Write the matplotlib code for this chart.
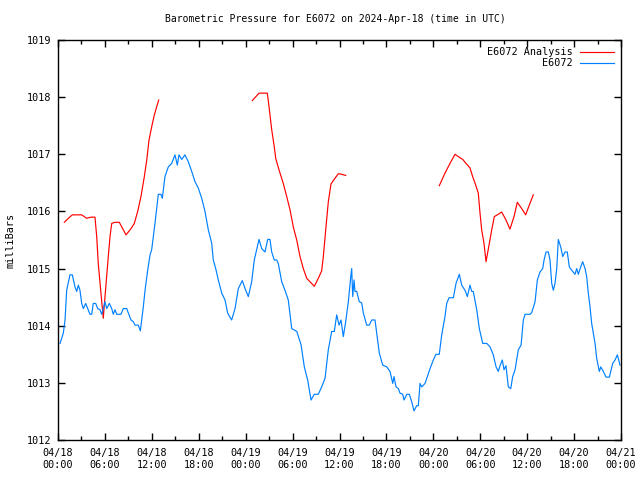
import numpy as np
import matplotlib
matplotlib.use("Agg")
import matplotlib.pyplot as plt

# hours since 2024-04-18 00:00 UTC and pressure (mb)
obs_hours = [0.26, 0.68, 0.90, 1.11, 1.53, 1.83, 2.17, 2.39, 2.60, 2.81, 3.03, 3.24, 3.54, 3.88, 4.09,
             4.31, 4.51, 4.82, 5.08, 5.37, 5.59, 5.79, 6.01, 6.23, 6.56, 6.87, 7.07, 7.29, 7.51, 8.06,
             8.35, 8.79, 9.08, 9.34, 9.63, 9.85, 10.27, 10.53, 10.70, 10.91, 11.13, 11.47, 11.77, 11.98,
             12.41, 12.83, 13.17, 13.34, 13.68, 14.11, 14.54, 14.96, 15.26, 15.47, 15.82, 16.24, 16.66,
             17.10, 17.52, 17.94, 18.38, 18.80, 19.22, 19.66, 19.86, 20.17, 20.50, 20.94, 21.36, 21.70,
             22.21, 22.64, 23.06, 23.57, 23.92, 24.34, 24.77, 25.10, 25.41, 25.71, 26.05, 26.47, 26.82,
             27.11, 27.33, 27.66, 27.97, 28.17, 28.61, 29.03, 29.45, 29.89, 30.53, 31.08, 31.50, 31.93,
             32.36, 32.78, 33.29, 33.72, 34.15, 34.57, 35.00, 35.34, 35.64, 35.94, 36.19, 36.49, 36.79,
             37.13, 37.44, 37.56, 37.69, 37.86, 37.98, 38.20, 38.53, 38.84, 39.05, 39.48, 39.81, 40.12,
             40.54, 40.76, 41.09, 41.53, 42.04, 42.46, 42.81, 42.97, 43.23, 43.52, 43.74, 44.08, 44.25,
             44.60, 44.93, 45.23, 45.53, 45.87, 46.08, 46.30, 46.51, 46.94, 47.23, 47.58, 48.00, 48.34,
             48.76, 49.07, 49.49, 49.71, 50.01, 50.56, 50.90, 51.32, 51.63, 52.05, 52.35, 52.69, 52.91,
             53.11, 53.55, 53.88, 54.32, 54.83, 55.25, 55.67, 56.02, 56.31, 56.53, 56.82, 57.04, 57.29,
             57.59, 57.90, 58.15, 58.45, 58.87, 59.22, 59.51, 59.73, 60.37, 60.58, 61.01, 61.30, 61.64,
             61.99, 62.16, 62.41, 62.71, 62.92, 63.14, 63.35, 63.56, 63.78, 63.98, 64.29, 64.55, 64.84,
             65.13, 65.39, 65.70, 66.12, 66.34, 66.54, 66.85, 67.10, 67.40, 67.61, 67.82, 68.04, 68.25,
             68.46, 68.68, 68.89, 69.23, 69.41, 69.74, 70.09, 70.51, 70.94, 71.24, 71.53, 71.71, 71.87]
obs_mb = [1013.69, 1013.87, 1014.10, 1014.62, 1014.89, 1014.89, 1014.68, 1014.60, 1014.71, 1014.62, 1014.39,
          1014.30, 1014.39, 1014.27, 1014.20, 1014.20, 1014.39, 1014.39, 1014.30, 1014.28, 1014.20, 1014.30,
          1014.42, 1014.30, 1014.39, 1014.30, 1014.20, 1014.28, 1014.20, 1014.20, 1014.30, 1014.30, 1014.19,
          1014.10, 1014.07, 1014.01, 1014.01, 1013.91, 1014.10, 1014.33, 1014.62, 1014.97, 1015.24, 1015.33,
          1015.80, 1016.30, 1016.30, 1016.23, 1016.61, 1016.78, 1016.84, 1016.99, 1016.81, 1016.99, 1016.91,
          1016.99, 1016.87, 1016.70, 1016.52, 1016.41, 1016.23, 1016.00, 1015.68, 1015.44, 1015.15, 1015.00,
          1014.80, 1014.57, 1014.45, 1014.22, 1014.10, 1014.30, 1014.65, 1014.79, 1014.65, 1014.51, 1014.77,
          1015.15, 1015.33, 1015.51, 1015.35, 1015.29, 1015.51, 1015.51, 1015.29, 1015.15, 1015.15, 1015.09,
          1014.77, 1014.62, 1014.45, 1013.95, 1013.90, 1013.67, 1013.28, 1013.05, 1012.70, 1012.80, 1012.80,
          1012.93, 1013.08, 1013.58, 1013.90, 1013.90, 1014.19, 1014.01, 1014.10, 1013.81, 1014.07, 1014.42,
          1014.86, 1015.00, 1014.51, 1014.80, 1014.60, 1014.60, 1014.42, 1014.40, 1014.22, 1014.01, 1014.01,
          1014.10, 1014.10, 1013.87, 1013.52, 1013.31, 1013.28, 1013.20, 1012.99, 1013.11, 1012.93, 1012.90,
          1012.82, 1012.80, 1012.70, 1012.80, 1012.80, 1012.67, 1012.51, 1012.60, 1012.60, 1012.99, 1012.93,
          1012.99, 1013.11, 1013.25, 1013.40, 1013.50, 1013.50, 1013.84, 1014.16, 1014.39, 1014.49, 1014.49,
          1014.74, 1014.90, 1014.71, 1014.62, 1014.51, 1014.71, 1014.60, 1014.60, 1014.28, 1013.95, 1013.69,
          1013.69, 1013.63, 1013.49, 1013.28, 1013.20, 1013.30, 1013.40, 1013.23, 1013.30, 1012.93, 1012.90,
          1013.11, 1013.23, 1013.58, 1013.66, 1014.10, 1014.20, 1014.20, 1014.23, 1014.42, 1014.80, 1014.94,
          1015.00, 1015.15, 1015.29, 1015.29, 1015.15, 1014.74, 1014.62, 1014.74, 1015.00, 1015.51, 1015.38,
          1015.21, 1015.29, 1015.29, 1015.03, 1014.97, 1014.90, 1015.00, 1014.90, 1015.03, 1015.12, 1015.00,
          1014.86, 1014.57, 1014.33, 1014.04, 1013.87, 1013.69, 1013.43, 1013.20, 1013.28, 1013.20, 1013.10,
          1013.10, 1013.34, 1013.40, 1013.49, 1013.40, 1013.31]

# analysis series; NaN marks gaps in the record
ana_hours = [0.81, 1.32, 1.83, 3.03, 3.67, 4.22, 4.73, 4.95, 5.15, 5.46, 5.79, 6.01, 6.36, 6.65, 6.87,
             7.29, 7.84, 8.70, 9.34, 9.76, 10.19, 10.61, 11.04, 11.35, 11.64, 11.98, 12.32, 12.62, 12.88,
             18.0,
             24.85, 25.71, 26.77, 26.99, 27.33, 27.66, 27.84, 28.26, 28.81, 29.25, 29.67, 30.09, 30.53,
             30.95, 31.37, 31.81, 32.78, 33.29, 33.72, 33.93, 34.24, 34.57, 34.91, 35.21, 35.85, 36.28, 36.79,
             42.0,
             48.76, 49.49, 50.13, 50.77, 51.19, 51.76, 52.18, 52.69, 53.03, 53.42, 53.75, 53.97, 54.18,
             54.48, 54.74, 55.16, 55.47, 55.80, 56.31, 56.74, 57.29, 57.80, 58.32, 58.74, 59.30, 59.81,
             60.27, 60.78]
ana_mb = [1015.81, 1015.88, 1015.94, 1015.94, 1015.88, 1015.90, 1015.90, 1015.56, 1015.09, 1014.62, 1014.13,
          1014.51, 1015.09, 1015.56, 1015.79, 1015.81, 1015.81, 1015.59, 1015.70, 1015.79, 1016.00, 1016.26,
          1016.61, 1016.90, 1017.25, 1017.48, 1017.69, 1017.83, 1017.95,
          np.nan,
          1017.94, 1018.07, 1018.07, 1017.83, 1017.43, 1017.13, 1016.93, 1016.73, 1016.49, 1016.26, 1016.03,
          1015.73, 1015.50, 1015.21, 1015.00, 1014.83, 1014.69, 1014.83, 1014.96, 1015.21, 1015.68, 1016.17,
          1016.48, 1016.54, 1016.66, 1016.65, 1016.63,
          np.nan,
          1016.45, 1016.67, 1016.84, 1017.00, 1016.96, 1016.91, 1016.84, 1016.76, 1016.61, 1016.46, 1016.32,
          1015.97, 1015.68, 1015.44, 1015.12, 1015.44, 1015.68, 1015.91, 1015.95, 1015.99, 1015.85, 1015.69,
          1015.91, 1016.16, 1016.05, 1015.94, 1016.11, 1016.29]

tick_hours = [0, 6, 12, 18, 24, 30, 36, 42, 48, 54, 60, 66, 72]
tick_labels = ["04/18\n00:00", "04/18\n06:00", "04/18\n12:00", "04/18\n18:00",
               "04/19\n00:00", "04/19\n06:00", "04/19\n12:00", "04/19\n18:00",
               "04/20\n00:00", "04/20\n06:00", "04/20\n12:00", "04/20\n18:00",
               "04/21\n00:00"]
y_ticks = [1012, 1013, 1014, 1015, 1016, 1017, 1018, 1019]

plt.rcParams['font.family'] = ['DejaVu Sans Mono']
plt.rcParams['font.size'] = 7.3

fig = plt.figure(figsize=(6.4, 4.8), dpi=100)
ax = fig.add_axes([58/640, 40/480, (621-58)/640, 400/480])

ax.plot(ana_hours, ana_mb, color='#ff0000', lw=0.85, label='E6072 Analysis')
ax.plot(obs_hours, obs_mb, color='#0080ff', lw=0.85, label='E6072')

ax.set_xlim(0, 72)
ax.set_ylim(1012, 1019)
ax.set_xticks(tick_hours)
ax.set_xticklabels(tick_labels, linespacing=1.15)
ax.set_xticks(np.arange(3, 72, 6), minor=True)
ax.set_yticks(y_ticks)
ax.tick_params(axis='both', which='both', direction='in', top=True, right=True,
               width=1, color='black', labelsize=7.3)
ax.tick_params(which='major', length=5)
ax.tick_params(axis='x', which='major', pad=6)
ax.tick_params(axis='y', which='major', pad=5)
ax.tick_params(which='minor', length=3)
for s in ax.spines.values():
    s.set_linewidth(1)

ax.set_ylabel('milliBars', fontsize=7.3, labelpad=8)
fig.text(335/640, 1 - 19/480, 'Barometric Pressure for E6072 on 2024-Apr-18 (time in UTC)',
         ha='center', va='center', fontsize=7.05)

leg = ax.legend(loc='upper right', frameon=False, markerfirst=False, handlelength=3.3,
                handletextpad=0.8, borderaxespad=0.3, labelspacing=0.1, fontsize=7.3)

fig.savefig('out.png', dpi=100)
